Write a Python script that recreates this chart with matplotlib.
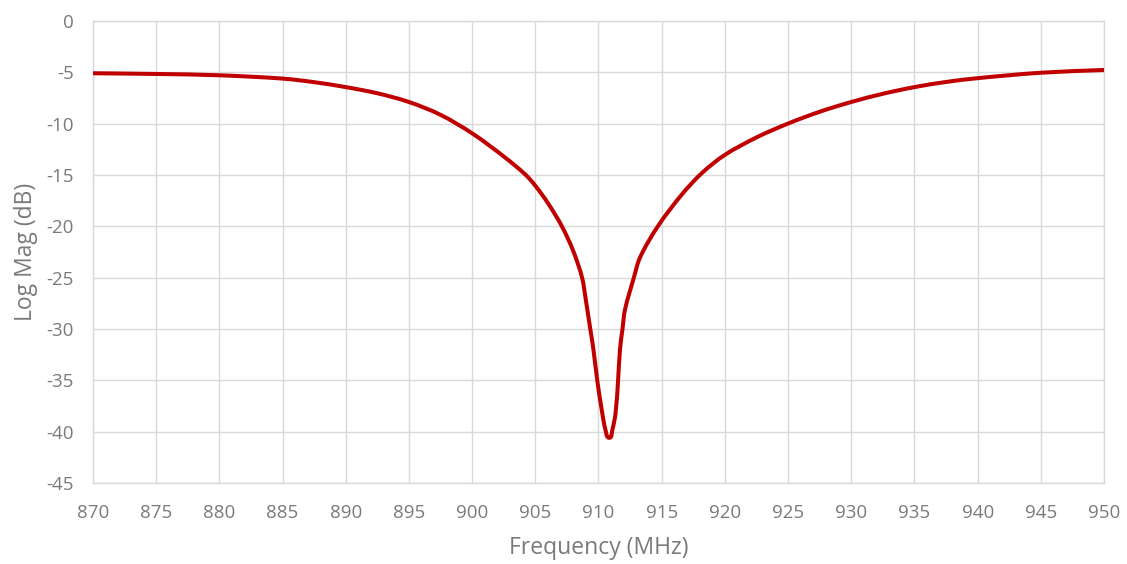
import matplotlib
matplotlib.use("Agg")
import matplotlib.pyplot as plt
import numpy as np
from matplotlib.path import Path
from matplotlib.patches import PathPatch

freq_mhz = [870, 875, 880, 885, 887.5, 890, 892.5, 895, 897.5, 900, 902.5, 904.2, 905.0,
            906.0, 907.1, 908.0, 908.7, 909.0, 909.35, 909.6, 909.9, 910.3, 910.55, 910.85,
            911.1, 911.35, 911.55, 911.7, 911.9, 912.1, 912.8, 913.3, 914.7, 916.6, 918.2,
            920, 922.5, 925, 927.5, 930, 932.5, 935, 937.5, 940, 945, 950]
log_mag_db = [-5.10, -5.17, -5.30, -5.62, -5.97, -6.45, -7.05, -7.90, -9.15, -10.95, -13.2,
              -14.95, -16.05, -17.75, -20.0, -22.4, -25.0, -27.2, -30.0, -32.0, -35.0, -38.2, -39.8,
              -40.6, -39.8, -38.2, -35.0, -32.0, -30.0, -28.1, -25.0, -23.0, -20.0, -16.9, -14.8,
              -13.05, -11.35, -10.0, -8.85, -7.90, -7.10, -6.45, -5.95, -5.58, -5.05, -4.78]

x_ticks = list(range(870, 951, 5))
y_ticks = list(range(-45, 1, 5))

plt.rcParams['font.family'] = ['Open Sans', 'DejaVu Sans']
plt.rcParams['axes.unicode_minus'] = False
fig = plt.figure(figsize=(11.27, 5.64), dpi=100)
ax = fig.add_axes([0.0825, 0.1436, 0.8971, 0.8194])

ax.set_xlim(870, 950)
ax.set_ylim(-45, 0)


def smooth_path(xs, ys, sx, sy):
    """Smoothed line through the data points (like a spreadsheet 'smoothed line')."""
    P = np.column_stack([np.asarray(xs, float) * sx, np.asarray(ys, float) * sy])
    n = len(P)
    verts = [P[0]]
    codes = [Path.MOVETO]
    tang = []
    for i in range(n):
        a = P[max(i - 1, 0)]
        b = P[min(i + 1, n - 1)]
        d = b - a
        nrm = np.hypot(*d)
        tang.append(d / nrm if nrm > 0 else d)
    for i in range(n - 1):
        seg = np.hypot(*(P[i + 1] - P[i]))
        c1 = P[i] + tang[i] * seg / 3.0
        c2 = P[i + 1] - tang[i + 1] * seg / 3.0
        verts += [c1, c2, P[i + 1]]
        codes += [Path.CURVE4] * 3
    V = np.array(verts)
    V[:, 0] /= sx
    V[:, 1] /= sy
    return Path(V, codes)


# approximate pixel scale of the axes so smoothing is done in screen proportions
sx = ax.bbox.width / 80.0
sy = ax.bbox.height / 45.0
patch = PathPatch(smooth_path(freq_mhz, log_mag_db, sx, sy), facecolor='none',
                  edgecolor='#C00000', lw=2.9, capstyle='round', joinstyle='round', zorder=3)
ax.add_patch(patch)

ax.set_xticks(x_ticks)
ax.set_yticks(y_ticks)
ax.grid(True, color='#D9D9D9', lw=1.0)
for s in ax.spines.values():
    s.set_color('#D9D9D9')
    s.set_linewidth(1.0)
ax.tick_params(axis='x', length=0, labelsize=13.5, colors='#7A7A7A', pad=15)
ax.tick_params(axis='y', length=0, labelsize=13.5, colors='#7A7A7A', pad=14)
ax.set_xlabel('Frequency (MHz)', fontsize=16.5, color='#7A7A7A', labelpad=10)
ax.set_ylabel('Log Mag (dB)', fontsize=16.5, color='#7A7A7A', labelpad=6)

fig.savefig('out.png', dpi=100)
